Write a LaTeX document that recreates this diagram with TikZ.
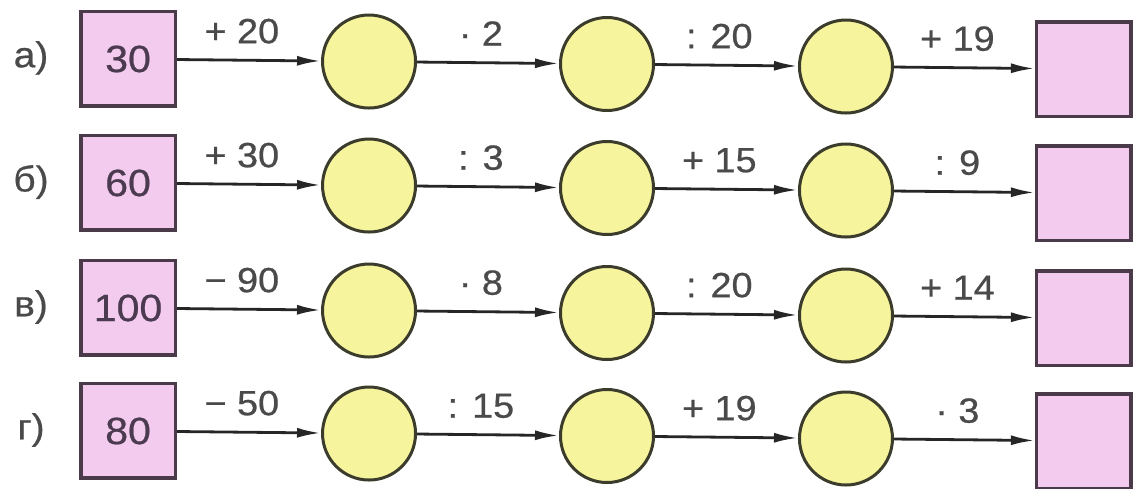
\documentclass[tikz,border=0pt]{standalone}
\usepackage{fontspec}
\setmainfont{Liberation Sans}
\newfontfamily\lab[FakeStretch=1.08,FakeBold=0.6]{Liberation Sans}
\usetikzlibrary{arrows.meta}
\definecolor{boxfill}{HTML}{F2CBEF}
\definecolor{boxdraw}{HTML}{4A3A4A}
\definecolor{circfill}{HTML}{F7F49E}
\definecolor{circdraw}{HTML}{3C3C2C}
\definecolor{txt}{HTML}{4A4A4A}
\definecolor{boxtxt}{HTML}{4B3A50}
\tikzset{
  sq/.style={draw=boxdraw, fill=boxfill, line width=3.5pt, minimum size=94.5pt, inner sep=0pt,
    font=\lab\fontsize{38}{38}\selectfont, text=boxtxt},
  ci/.style={circle, draw=circdraw, fill=circfill, line width=3pt, minimum size=93pt, inner sep=0pt},
  conn/.style={draw=black!85, line width=2.8pt, -{Latex[length=24pt,width=10pt]}},
  op/.style={font=\lab\fontsize{35}{35}\selectfont, text=txt, anchor=base, pos=0.45, yshift=17pt},
  rowlab/.style={font=\lab\fontsize{36}{36}\selectfont, text=txt},
}
\begin{document}
\begin{tikzpicture}[x=1pt,y=1pt]
\useasboundingbox (0,0) rectangle (1135,488);
\foreach \r/\yy/\lt/\st/\a/\b/\c/\d in {
  1/424/а)/30/+ 20/· 2/: 20/+ 19,
  2/300/б)/60/+ 30/: 3/+ 15/: 9,
  3/175/в)/100/− 90/· 8/: 20/+ 14,
  4/52/г)/80/− 50/: 15/+ 19/· 3}{
  \begin{scope}[rotate around={-0.6:(606,\yy)}]
    \node[rowlab] (T\r) at (31,\yy) {\lt};
    \node[sq] (L\r) at (128,\yy) {\st};
    \node[ci] (A\r) at (369,\yy) {};
    \node[ci] (B\r) at (607,\yy) {};
    \node[ci] (C\r) at (846,\yy) {};
    \node[sq] (R\r) at (1084,\yy) {};
    \draw[conn] (L\r) -- node[op] {\a} (A\r);
    \draw[conn] (A\r) -- node[op] {\b} (B\r);
    \draw[conn] (B\r) -- node[op] {\c} (C\r);
    \draw[conn] (C\r) -- node[op] {\d} (R\r);
  \end{scope}
}
\end{tikzpicture}
\end{document}
